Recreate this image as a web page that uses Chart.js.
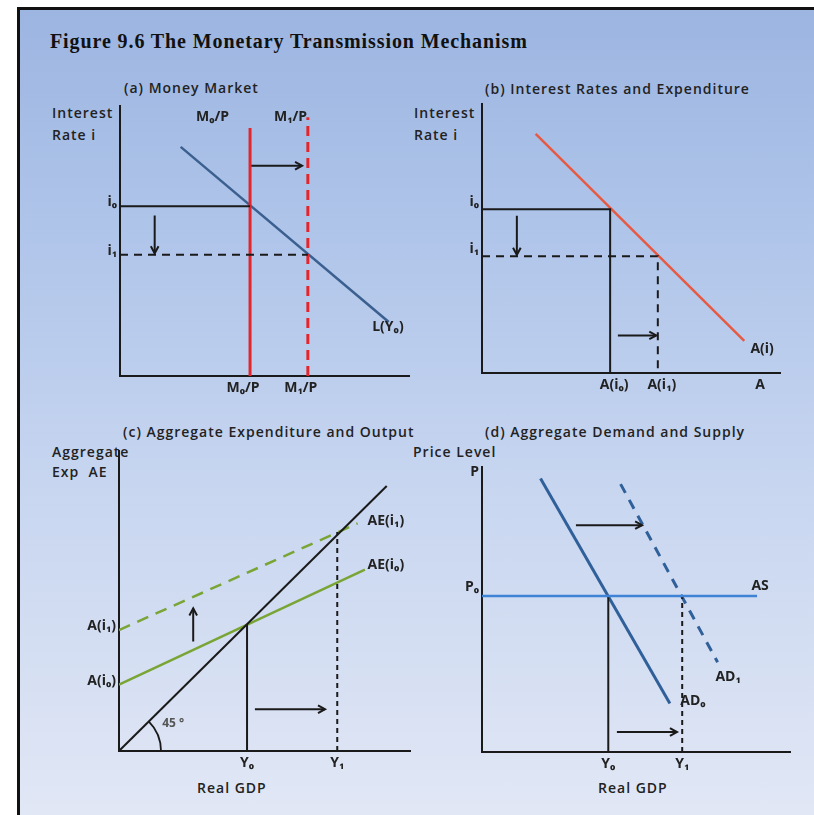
<!DOCTYPE html>
<html>
<head>
<meta charset="utf-8">
<script src="https://cdn.jsdelivr.net/npm/chart.js@4.4.1/dist/chart.umd.min.js"></script>
<style>
  body { margin:0; width:814px; height:815px; background:#fff; position:relative; overflow:hidden; }
  .frame { position:absolute; left:17px; top:7px; width:797px; height:808px; box-sizing:border-box;
           border-left:3px solid #111; border-top:3px solid #111;
           background:linear-gradient(180deg,#9cb5e1 0%,#b1c6ea 30%,#c8d6f0 60%,#e1e7f5 100%); }
  canvas { position:absolute; }
  .t { position:absolute; font-family:'Open Sans','DejaVu Sans',sans-serif; font-weight:600; font-size:14px;
       letter-spacing:1px; color:#222; line-height:16px; white-space:pre; }
  .title { position:absolute; left:50px; top:30px; font-family:'Liberation Serif',serif; font-weight:bold;
           font-size:20px; color:#111; letter-spacing:0.9px; }
</style>
</head>
<body>
<div class="frame"></div>
<div class="title">Figure 9.6 The Monetary Transmission Mechanism</div>

<div class="t" style="left:124px;top:80px">(a) Money Market</div>
<div class="t" style="left:485px;top:81px">(b) Interest Rates and Expenditure</div>
<div class="t" style="left:123px;top:424px">(c) Aggregate Expenditure and Output</div>
<div class="t" style="left:485px;top:424px">(d) Aggregate Demand and Supply</div>

<div class="t" style="left:52px;top:105px">Interest</div>
<div class="t" style="left:52px;top:127px">Rate i</div>
<div class="t" style="left:414px;top:105px">Interest</div>
<div class="t" style="left:414px;top:127px">Rate i</div>
<div class="t" style="left:52px;top:444px">Aggregate</div>
<div class="t" style="left:52px;top:464px">Exp  AE</div>
<div class="t" style="left:413px;top:444px">Price Level</div>
<div class="t" style="left:197px;top:780px">Real GDP</div>
<div class="t" style="left:598px;top:780px">Real GDP</div>

<canvas id="chartA" width="360" height="310" style="left:60px;top:95px"></canvas>
<canvas id="chartB" width="370" height="310" style="left:430px;top:93px"></canvas>
<canvas id="chartC" width="360" height="340" style="left:60px;top:440px"></canvas>
<canvas id="chartD" width="375" height="327" style="left:430px;top:455px"></canvas>

<script>
const FONT = "'Open Sans','DejaVu Sans',sans-serif";

/* (a) 货币市场 */
const aLiquidity = [{x:2.1,y:8.5},{x:9.3,y:2.0}];
const aM0 = [{x:4.5,y:0},{x:4.5,y:9.2}];
const aM1 = [{x:6.5,y:0},{x:6.5,y:9.6}];
const aI0 = [{x:0,y:6.3},{x:4.5,y:6.3}];
const aI1 = [{x:0,y:4.5},{x:6.5,y:4.5}];
const aShift = [{x:4.5,y:7.8},{x:6.3,y:7.8}];
const aDown = [{x:1.2,y:5.95},{x:1.2,y:4.55}];
const aXTicks = [4.5, 6.5], aXLabels = ['M₀/P','M₁/P'];
const aYTicks = [6.3, 4.5], aYLabels = ['i₀','i₁'];

/* (b) 利率与支出 */
const bSpending = [{x:1.8,y:8.9},{x:8.8,y:1.2}];
const bI0 = [{x:0,y:6.1},{x:4.3,y:6.1},{x:4.3,y:0}];
const bI1 = [{x:0,y:4.35},{x:5.9,y:4.35},{x:5.9,y:0}];
const bDown = [{x:1.17,y:5.85},{x:1.17,y:4.4}];
const bRight = [{x:4.56,y:1.4},{x:5.85,y:1.4}];
const bXTicks = [4.3, 5.9, 9.2], bXLabels = ['A(i₀)','A(i₁)','A'];
const bYTicks = [6.1, 4.35], bYLabels = ['i₀','i₁'];

/* (c) 总支出与产出 */
const c45 = [{x:0,y:0},{x:9.2,y:9.2}];
const cAE0 = [{x:0,y:2.3},{x:8.45,y:6.3}];
const cAE1 = [{x:0,y:4.2},{x:8.2,y:7.9}];
const cY0 = [{x:4.4,y:0},{x:4.4,y:4.4}];
const cY1 = [{x:7.5,y:0},{x:7.5,y:7.6}];
const cUp = [{x:2.55,y:3.8},{x:2.55,y:4.95}];
const cRight = [{x:4.67,y:1.45},{x:7.08,y:1.45}];
const cXTicks = [4.4, 7.5], cXLabels = ['Y₀','Y₁'];
const cYTicks = [4.2, 2.3], cYLabels = ['A(i₁)','A(i₀)'];

/* (d) 总需求与总供给 */
const dAD0 = [{x:1.9,y:9.6},{x:6.1,y:1.7}];
const dAD1 = [{x:4.5,y:9.4},{x:7.65,y:3.15}];
const dAS = [{x:0,y:5.47},{x:8.93,y:5.47}];
const dY0 = [{x:4.1,y:0},{x:4.1,y:5.47}];
const dY1 = [{x:6.5,y:0},{x:6.5,y:5.47}];
const dTop = [{x:3.05,y:7.96},{x:5.2,y:7.96}];
const dBottom = [{x:4.38,y:0.7},{x:6.33,y:0.7}];
const dXTicks = [4.1, 6.5], dXLabels = ['Y₀','Y₁'];
const dYTicks = [9.5, 5.47], dYLabels = ['P','P₀'];

const BLACK = '#1a1a1a';
function line(data, color, width, dash, arrow) {
  return { data, showLine:true, borderColor:color, borderWidth:width, borderDash:dash || [],
           pointRadius:0, fill:false, arrow:!!arrow };
}

// 箭头、曲线标注、45°弧
const extras = {
  id: 'extras',
  afterDatasetsDraw(chart, args, opts) {
    const {ctx, scales:{x, y}} = chart;
    ctx.save();
    chart.data.datasets.forEach(ds => {
      if (!ds.arrow) return;
      const p = ds.data[ds.data.length - 1], q = ds.data[ds.data.length - 2];
      const px = x.getPixelForValue(p.x), py = y.getPixelForValue(p.y);
      const a = Math.atan2(py - y.getPixelForValue(q.y), px - x.getPixelForValue(q.x));
      ctx.strokeStyle = ds.borderColor; ctx.lineWidth = ds.borderWidth; ctx.setLineDash([]);
      ctx.beginPath();
      ctx.moveTo(px - 8 * Math.cos(a - 0.5), py - 8 * Math.sin(a - 0.5));
      ctx.lineTo(px, py);
      ctx.lineTo(px - 8 * Math.cos(a + 0.5), py - 8 * Math.sin(a + 0.5));
      ctx.stroke();
    });
    if (opts.arc) {
      const ox = x.getPixelForValue(0), oy = y.getPixelForValue(0);
      ctx.strokeStyle = BLACK; ctx.lineWidth = 1.8; ctx.setLineDash([]);
      ctx.beginPath(); ctx.arc(ox, oy, 42, -Math.PI / 4, 0); ctx.stroke();
    }
    ctx.textAlign = 'center'; ctx.textBaseline = 'middle';
    (opts.notes || []).forEach(n => {
      ctx.font = '700 ' + (n.size || 14) + 'px ' + FONT;
      ctx.fillStyle = n.color || '#222';
      ctx.fillText(n.text, x.getPixelForValue(n.x), y.getPixelForValue(n.y));
    });
    ctx.restore();
  }
};

function axis(max, ticks, labels, size, horiz, offset, pad) {
  return {
    type:'linear', min:0, max,
    grid:{ display:false, drawTicks:false },
    border:{ display:true, color:BLACK, width:2 },
    afterBuildTicks: s => { s.ticks = ticks.map(v => ({ value:v })); },
    afterFit: s => { if (horiz) s.height = size; else s.width = size; },
    ticks:{ autoSkip:false, maxRotation:0, minRotation:0, padding:pad, labelOffset:offset, color:'#222',
            font:{ family:FONT, size:14, weight:'700' }, callback:(v, i) => labels[i] }
  };
}

function makePanel(id, o) {
  return new Chart(document.getElementById(id), {
    type:'scatter',
    data:{ datasets:o.datasets },
    options:{
      responsive:false, animation:false, events:[],
      layout:{ padding:{ top:o.pad[0], right:o.pad[1], bottom:0, left:0 } },
      plugins:{ legend:{display:false}, tooltip:{enabled:false}, extras:{ notes:o.notes, arc:o.arc } },
      scales:{
        x: axis(o.xMax, o.xTicks, o.xLabels, o.xSize, true, o.xOff, 4),
        y: axis(o.yMax, o.yTicks, o.yLabels, o.ySize, false, o.yOff, 3)
      }
    },
    plugins:[extras]
  });
}

makePanel('chartA', {
  pad:[7, 11], xMax:10, yMax:10, xSize:29, ySize:60, xOff:-7, yOff:-4,
  xTicks:aXTicks, xLabels:aXLabels, yTicks:aYTicks, yLabels:aYLabels,
  datasets:[
    line(aI0, BLACK, 2), line(aI1, BLACK, 2, [8, 6]),
    line(aM0, '#e3262b', 3), line(aM1, '#e3262b', 3, [10, 6]),
    line(aLiquidity, '#3b5f8f', 2.5),
    line(aShift, BLACK, 2, null, true), line(aDown, BLACK, 2, null, true)
  ],
  notes:[ {x:3.2, y:9.6, text:'M₀/P'}, {x:5.9, y:9.6, text:'M₁/P'}, {x:9.27, y:1.8, text:'L(Y₀)'} ]
});

makePanel('chartB', {
  pad:[7, 20], xMax:10, yMax:10, xSize:30, ySize:52, xOff:4, yOff:-7,
  xTicks:bXTicks, xLabels:bXLabels, yTicks:bYTicks, yLabels:bYLabels,
  datasets:[
    line(bI0, BLACK, 2), line(bI1, BLACK, 2, [8, 6]),
    line(bSpending, '#e65a44', 2.5),
    line(bDown, BLACK, 2, null, true), line(bRight, BLACK, 2, null, true)
  ],
  notes:[ {x:9.4, y:0.88, text:'A(i)'} ]
});

makePanel('chartC', {
  pad:[8, 10], xMax:10, yMax:10.4, xSize:29, ySize:59, xOff:0, yOff:-4, arc:true,
  xTicks:cXTicks, xLabels:cXLabels, yTicks:cYTicks, yLabels:cYLabels,
  datasets:[
    line(c45, BLACK, 2),
    line(cY0, BLACK, 2), line(cY1, BLACK, 2, [5, 4]),
    line(cAE0, '#79a535', 2.5), line(cAE1, '#79a535', 2.5, [12, 8]),
    line(cUp, BLACK, 2, null, true), line(cRight, BLACK, 2, null, true)
  ],
  notes:[ {x:9.17, y:8.0, text:'AE(i₁)'}, {x:9.17, y:6.46, text:'AE(i₀)'}, {x:1.86, y:0.96, text:'45 °', color:'#555', size:12} ]
});

makePanel('chartD', {
  pad:[12, 15], xMax:10, yMax:10, xSize:30, ySize:52, xOff:0, yOff:-9,
  xTicks:dXTicks, xLabels:dXLabels, yTicks:dYTicks, yLabels:dYLabels,
  datasets:[
    line(dAS, '#3f83d6', 2.5),
    line(dY0, BLACK, 2), line(dY1, BLACK, 2, [5, 4]),
    line(dAD0, '#30609a', 3), line(dAD1, '#30609a', 3, [10, 8]),
    line(dTop, BLACK, 2, null, true), line(dBottom, BLACK, 2, null, true)
  ],
  notes:[ {x:9.03, y:5.82, text:'AS'}, {x:7.99, y:2.63, text:'AD₁'}, {x:6.85, y:1.79, text:'AD₀'} ]
});
</script>
</body>
</html>
